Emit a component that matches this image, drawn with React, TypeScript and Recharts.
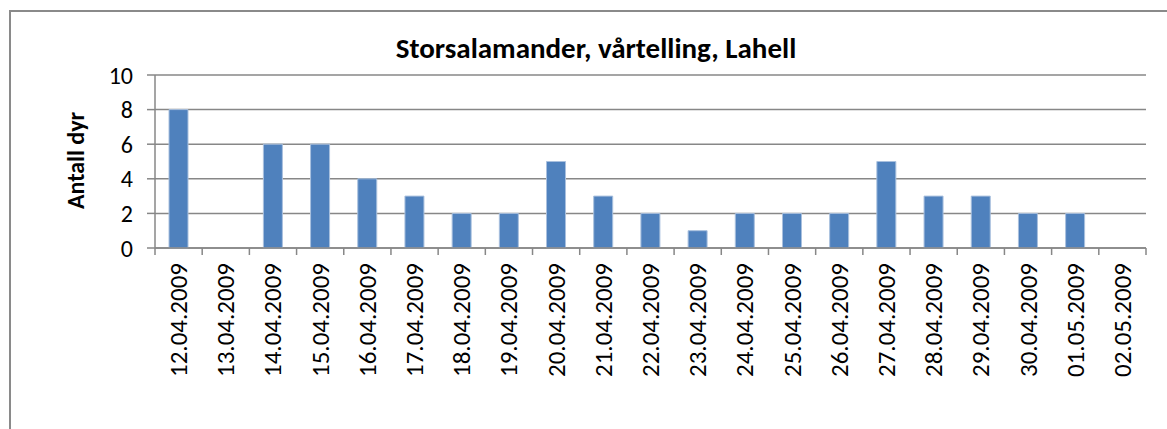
import React from "react";
import { Bar, BarChart, CartesianGrid, XAxis, YAxis } from "recharts";

// counts
const dates = [
    "12.04.2009", "13.04.2009", "14.04.2009", "15.04.2009", "16.04.2009", "17.04.2009", "18.04.2009",
    "19.04.2009", "20.04.2009", "21.04.2009", "22.04.2009", "23.04.2009", "24.04.2009", "25.04.2009",
    "26.04.2009", "27.04.2009", "28.04.2009", "29.04.2009", "30.04.2009", "01.05.2009", "02.05.2009",
];
const counts = [8, 0, 6, 6, 4, 3, 2, 2, 5, 3, 2, 1, 2, 2, 2, 5, 3, 3, 2, 2, 0];
const yTicks = [0, 2, 4, 6, 8, 10];

const TITLE = "Storsalamander, vårtelling, Lahell";
const Y_LABEL = "Antall dyr";

const FONT = "Carlito, Calibri, 'Liberation Sans', sans-serif";
const GRID = "#878787";
const BAR = "#4f81bd";

const data = dates.map((d, i) => ({ date: d, count: counts[i] }));

function DateTick(props: any) {
    const { x, y, payload, index, visibleTicksCount } = props;
    const half = payload?.offset ?? 23.6;
    const isLast = index === visibleTicksCount - 1;
    const ty = y + 7;
    return (
        <g>
            <line x1={x - half} y1={y - 8} x2={x - half} y2={y - 1} stroke={GRID} strokeWidth={1.5} />
            {isLast && <line x1={x + half} y1={y - 8} x2={x + half} y2={y - 1} stroke={GRID} strokeWidth={1.5} />}
            <text
                x={x}
                y={ty}
                transform={`rotate(-90, ${x}, ${ty})`}
                textAnchor="end"
                dominantBaseline="central"
                fontSize={25}
                fontFamily={FONT}
                fill="#000"
            >
                {payload.value}
            </text>
        </g>
    );
}

function YLabel(props: any) {
    const vb = props.viewBox;
    const cx = 75;
    const cy = vb.y + vb.height / 2 - 1;
    return (
        <text
            x={cx}
            y={cy}
            transform={`rotate(-90, ${cx}, ${cy})`}
            textAnchor="middle"
            dominantBaseline="central"
            fontSize={24}
            fontWeight="bold"
            fontFamily={FONT}
            fill="#000"
        >
            {Y_LABEL}
        </text>
    );
}

export default function App() {
    return (
        <div style={{ position: "absolute", left: 0, top: 0, width: 1167, height: 429, background: "#fff", overflow: "hidden" }}>
            <div
                style={{
                    position: "absolute",
                    left: 9,
                    top: 10,
                    width: 1158,
                    height: 419,
                    borderLeft: "2px solid #8a8a8a",
                    borderTop: "2px solid #8a8a8a",
                    boxSizing: "border-box",
                }}
            />
            <div
                style={{
                    position: "absolute",
                    left: 0,
                    top: 30,
                    width: 1192,
                    textAlign: "center",
                    fontFamily: FONT,
                    fontWeight: "bold",
                    fontSize: 29,
                    color: "#000",
                }}
            >
                {TITLE}
            </div>
            <div style={{ position: "absolute", left: 0, top: 0 }}>
                <BarChart width={1167} height={429} data={data} margin={{ top: 75, right: 21, bottom: 11, left: 95 }} barSize={19}>
                    <CartesianGrid vertical={false} stroke={GRID} strokeWidth={1.5} />
                    <XAxis
                        dataKey="date"
                        interval={0}
                        height={170}
                        axisLine={{ stroke: GRID, strokeWidth: 1.5 }}
                        tickLine={false}
                        tickSize={6}
                        tickMargin={2}
                        tick={<DateTick />}
                    />
                    <YAxis
                        width={60}
                        domain={[0, 10]}
                        ticks={yTicks}
                        interval={0}
                        axisLine={{ stroke: GRID, strokeWidth: 1.5 }}
                        tickLine={{ stroke: GRID, strokeWidth: 1.5 }}
                        tickSize={8}
                        tickMargin={14}
                        tick={{ fontSize: 24, fontFamily: FONT, fill: "#000" }}
                        label={<YLabel />}
                    />
                    <Bar dataKey="count" fill={BAR} stroke="#a9c0de" strokeWidth={1} isAnimationActive={false} />
                </BarChart>
            </div>
        </div>
    );
}
